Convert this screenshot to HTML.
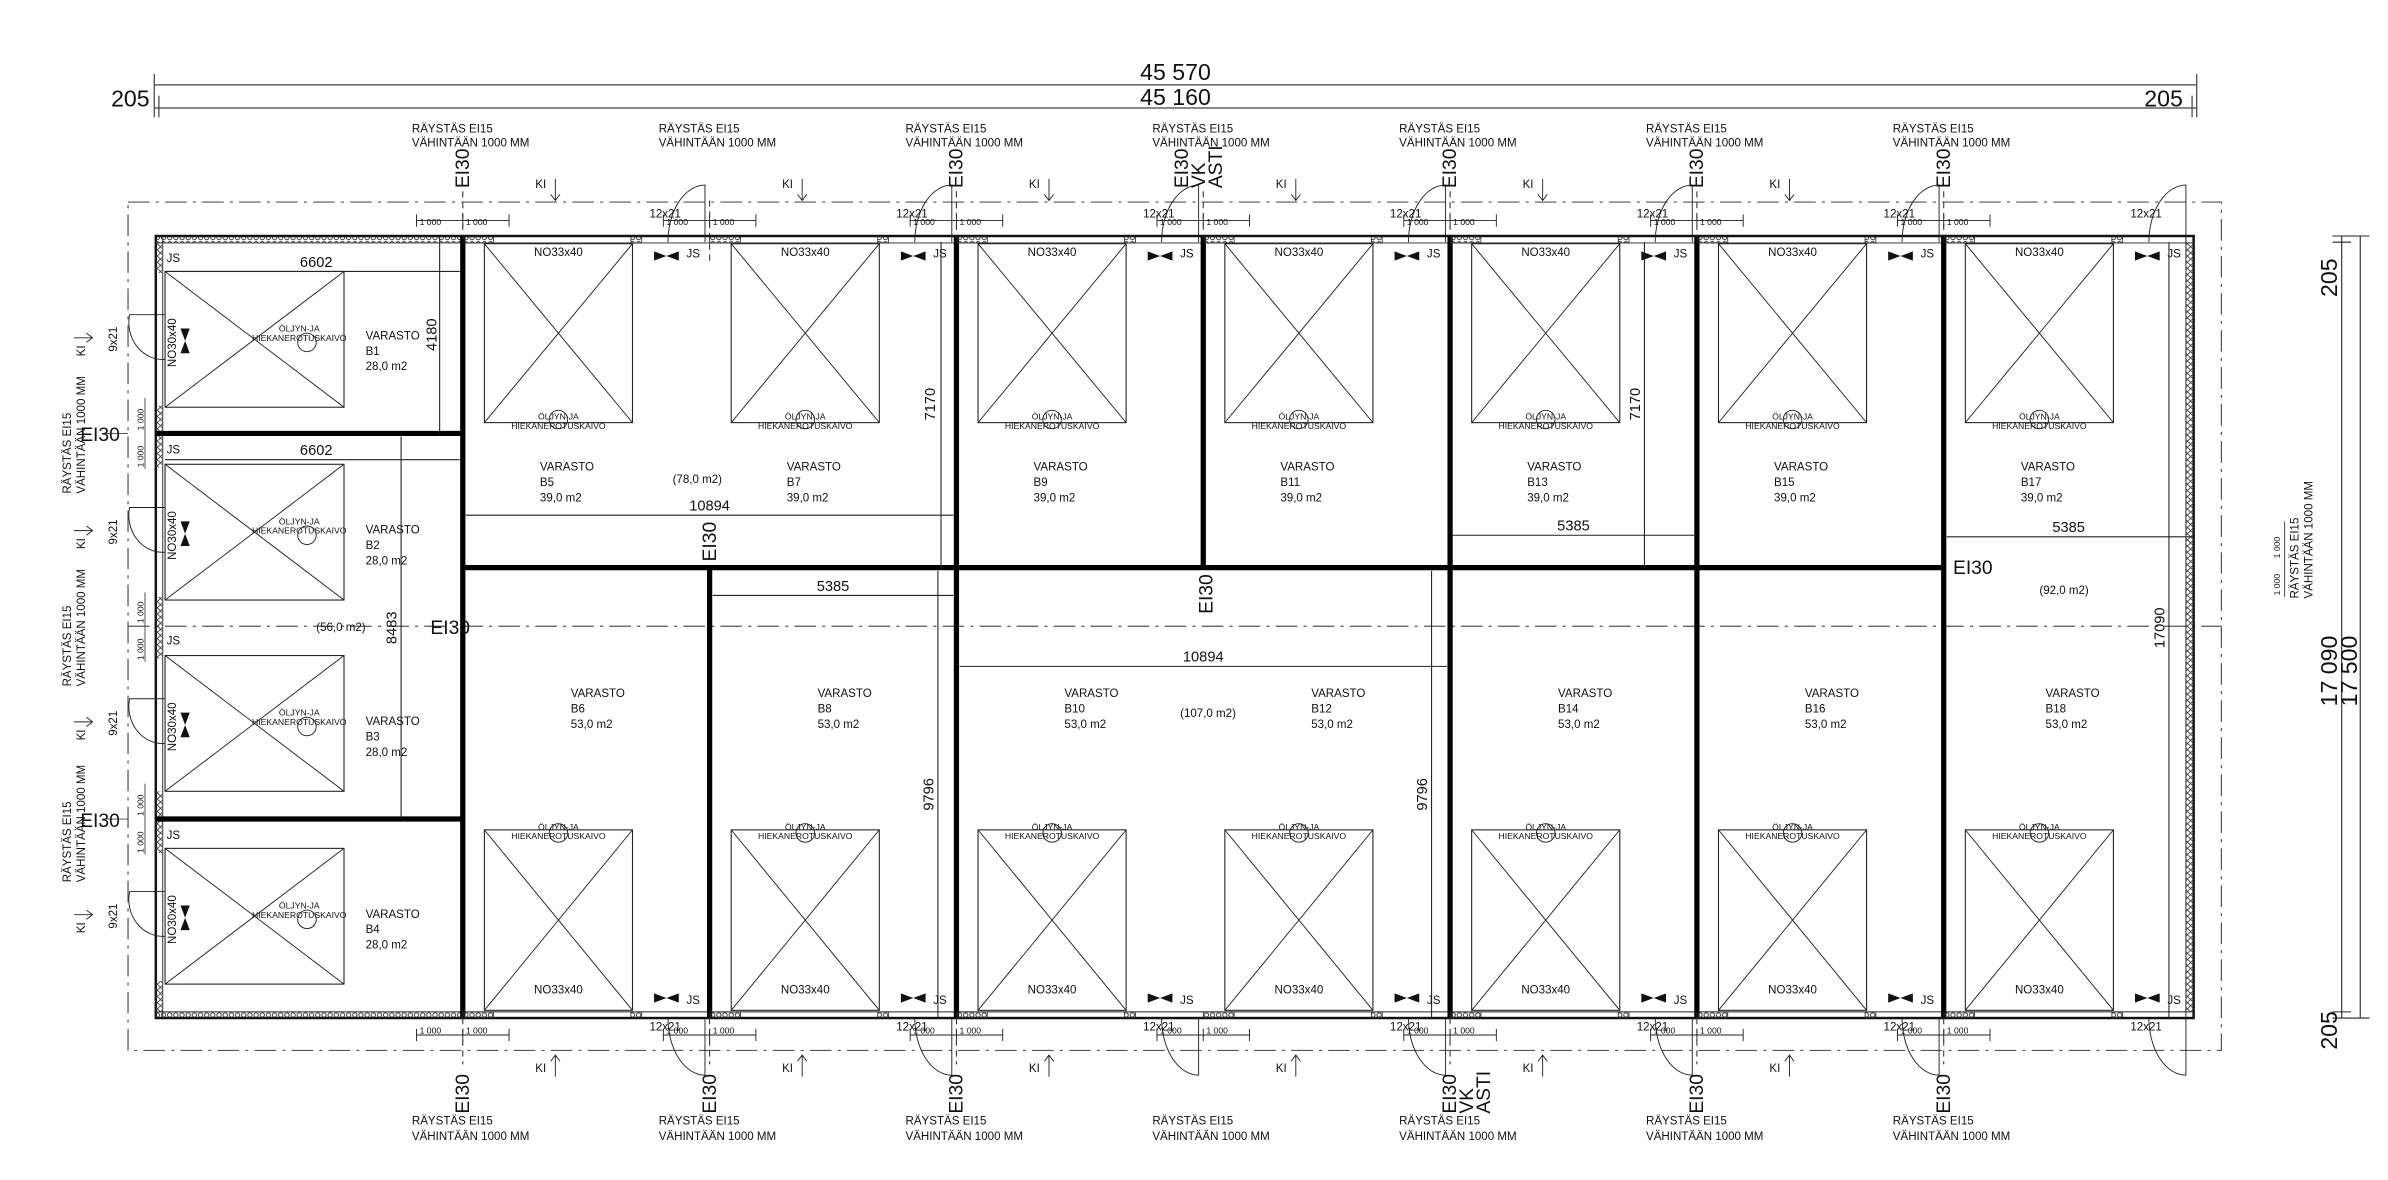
<!DOCTYPE html>
<html><head><meta charset="utf-8"><style>
html,body{margin:0;padding:0;background:#fff;}
svg{display:block;}
text{font-family:"Liberation Sans Narrow","Liberation Sans",sans-serif;fill:#111;}
.s{font-size:7.5px;}
.xs{font-size:5.6px;}
.m{font-size:9.5px;}
.l{font-family:"Liberation Sans",sans-serif;font-size:12.5px;}
.xl{font-size:15px;}
</style></head><body>
<svg width="2388" height="1180" viewBox="0 0 1548 765" preserveAspectRatio="none" xmlns="http://www.w3.org/2000/svg">
<defs>
<pattern id="h" width="4" height="4" patternUnits="userSpaceOnUse"><circle cx="2" cy="2" r="1.4" fill="none" stroke="#333" stroke-width="0.6"/></pattern>
<pattern id="hv" width="4" height="4" patternUnits="userSpaceOnUse"><path d="M0 0L4 4M4 0L0 4" stroke="#333" stroke-width="0.5"/></pattern>
<g id="bt">
<rect x="314" y="158" width="96" height="116" fill="none" stroke="#222" stroke-width="0.7"/>
<path d="M314 158L410 274M410 158L314 274" stroke="#222" stroke-width="0.6"/>
<circle cx="362" cy="272" r="6" fill="none" stroke="#222" stroke-width="0.6"/>
<rect x="300" y="153.5" width="20" height="4" fill="url(#h)" stroke="#222" stroke-width="0.5"/>
<rect x="409" y="153.5" width="7" height="4" fill="url(#h)" stroke="#222" stroke-width="0.5"/>
<path d="M457 157V120A24 37 0 0 0 433 157" fill="none" stroke="#222" stroke-width="0.6"/>
<path d="M424 163l8 3l-8 3zM440 163l-8 3l8 3z" fill="#111"/>
<path d="M270 143H330M270 139v8M300 139v8M330 139v8" stroke="#222" stroke-width="0.6"/>
</g>
<g id="ka"><path d="M360 116V130M357 126l3 4l3-4" fill="none" stroke="#222" stroke-width="0.6"/></g>
<g id="kb"><path d="M360 698V684M357 688l3-4l3 4" fill="none" stroke="#222" stroke-width="0.6"/></g>
<g id="bb">
<rect x="314" y="538" width="96" height="117" fill="none" stroke="#222" stroke-width="0.7"/>
<path d="M314 538L410 655M410 538L314 655" stroke="#222" stroke-width="0.6"/>
<circle cx="362" cy="540" r="6" fill="none" stroke="#222" stroke-width="0.6"/>
<rect x="300" y="656" width="20" height="4" fill="url(#h)" stroke="#222" stroke-width="0.5"/>
<rect x="409" y="656" width="7" height="4" fill="url(#h)" stroke="#222" stroke-width="0.5"/>
<path d="M457 660V697A24 37 0 0 1 433 660" fill="none" stroke="#222" stroke-width="0.6"/>
<path d="M424 644l8 3l-8 3zM440 644l-8 3l8 3z" fill="#111"/>
<path d="M270 671H330M270 667v8M300 667v8M330 667v8" stroke="#222" stroke-width="0.6"/>
</g>
<g id="lb">
<rect x="107" y="176" width="116" height="88" fill="none" stroke="#222" stroke-width="0.7"/>
<path d="M107 176L223 264M223 176L107 264" stroke="#222" stroke-width="0.6"/>
<circle cx="199" cy="222" r="6" fill="none" stroke="#222" stroke-width="0.6"/>
<path d="M117 213l3 8l3-8zM117 229l3-8l3 8z" fill="#111"/>
<path d="M107 204H84A22 24 0 0 0 107 233" fill="none" stroke="#222" stroke-width="0.6"/>
<path d="M48 219H60M56 216l4 3l-4 3" fill="none" stroke="#222" stroke-width="0.6"/>
</g>
</defs>

<path d="M100 55H1424M100 70H1424M100 48v28M1424 48v28M103 62v14M1421 62v14" stroke="#444" stroke-width="0.8" fill="none"/>
<text x="762" y="52" class="xl" text-anchor="middle">45 570</text>
<text x="762" y="68" class="xl" text-anchor="middle">45 160</text>
<text x="72" y="69" class="xl">205</text>
<text x="1390" y="69" class="xl">205</text>

<rect x="83" y="131" width="1357" height="550" fill="none" stroke="#555" stroke-width="0.8" stroke-dasharray="14 4 2 4"/>
<path d="M83 406H1440" stroke="#555" stroke-width="0.8" stroke-dasharray="14 4 2 4"/>

<rect x="101" y="153" width="1321" height="507" fill="none" stroke="#111" stroke-width="1.6"/>
<path d="M101 157.5H1422M101 656H1422M105.5 153V660M1417 153V660" stroke="#222" stroke-width="0.6"/>
<rect x="101" y="153.5" width="200" height="4" fill="url(#h)"/>
<rect x="101" y="656" width="200" height="4" fill="url(#h)"/>
<rect x="1417" y="157" width="5" height="499" fill="url(#hv)"/>
<rect x="101" y="157" width="4" height="20" fill="url(#hv)"/>
<rect x="101" y="263" width="4" height="40" fill="url(#hv)"/>
<rect x="101" y="387" width="4" height="40" fill="url(#hv)"/>
<rect x="101" y="513" width="4" height="40" fill="url(#hv)"/>
<rect x="101" y="636" width="4" height="20" fill="url(#hv)"/>

<g stroke="#000" stroke-width="3.4" fill="none">
<path d="M300 153V660M620 153V660M940 153V660M1100 153V660M1260 153V660M780 153V368M460 368V660"/>
<path d="M300 368H1260M101 281H300M101 531H300"/>
</g>

<use href="#bt"/><use href="#bt" x="160"/><use href="#bt" x="320"/><use href="#bt" x="480"/><use href="#bt" x="640"/><use href="#bt" x="800"/><use href="#bt" x="960"/>
<use href="#bb"/><use href="#bb" x="160"/><use href="#bb" x="320"/><use href="#bb" x="480"/><use href="#bb" x="640"/><use href="#bb" x="800"/><use href="#bb" x="960"/>
<use href="#ka"/><use href="#ka" x="160"/><use href="#ka" x="320"/><use href="#ka" x="480"/><use href="#ka" x="640"/><use href="#ka" x="800"/>
<use href="#kb"/><use href="#kb" x="160"/><use href="#kb" x="320"/><use href="#kb" x="480"/><use href="#kb" x="640"/><use href="#kb" x="800"/>
<use href="#lb"/><use href="#lb" y="125"/><use href="#lb" y="249"/><use href="#lb" y="374"/>

<g stroke="#222" stroke-width="0.7" fill="none">
<path d="M107 176H298M107 298H298M285 153V281M260 283V531M302 334H618M462 386H618M622 432H938M941 347H1100M1262 348H1422M610 157V368M1066 157V368M608 370V660M928 370V660M1406 157V660"/>
<path d="M1518 153V660M1530 153V660M1512 153H1536M1512 157H1524M1512 660H1536M1512 656H1524"/>
</g>
<text x="205" y="173" class="m" text-anchor="middle">6602</text>
<text x="205" y="295" class="m" text-anchor="middle">6602</text>
<text x="460" y="331" class="m" text-anchor="middle">10894</text>
<text x="540" y="383" class="m" text-anchor="middle">5385</text>
<text x="780" y="429" class="m" text-anchor="middle">10894</text>
<text x="1020" y="344" class="m" text-anchor="middle">5385</text>
<text x="1341" y="345" class="m" text-anchor="middle">5385</text>
<text transform="translate(283,217) rotate(-90)" class="m" text-anchor="middle">4180</text>
<text transform="translate(257,407) rotate(-90)" class="m" text-anchor="middle">8483</text>
<text transform="translate(606,262) rotate(-90)" class="m" text-anchor="middle">7170</text>
<text transform="translate(1063,262) rotate(-90)" class="m" text-anchor="middle">7170</text>
<text transform="translate(605,515) rotate(-90)" class="m" text-anchor="middle">9796</text>
<text transform="translate(925,515) rotate(-90)" class="m" text-anchor="middle">9796</text>
<text transform="translate(1403,407) rotate(-90)" class="m" text-anchor="middle">17090</text>
<text transform="translate(1515,180) rotate(-90)" class="xl" text-anchor="middle">205</text>
<text transform="translate(1515,435) rotate(-90)" class="xl" text-anchor="middle">17 090</text>
<text transform="translate(1528,435) rotate(-90)" class="xl" text-anchor="middle">17 500</text>
<text transform="translate(1515,668) rotate(-90)" class="xl" text-anchor="middle">205</text>

<g class="s">
<text x="237" y="220">VARASTO</text><text x="237" y="230">B1</text><text x="237" y="240">28,0 m2</text>
<text x="237" y="346">VARASTO</text><text x="237" y="356">B2</text><text x="237" y="366">28,0 m2</text>
<text x="237" y="470">VARASTO</text><text x="237" y="480">B3</text><text x="237" y="490">28,0 m2</text>
<text x="237" y="595">VARASTO</text><text x="237" y="605">B4</text><text x="237" y="615">28,0 m2</text>
<text x="205" y="409">(56,0 m2)</text>
<text x="350" y="305">VARASTO</text><text x="350" y="315">B5</text><text x="350" y="325">39,0 m2</text>
<text x="510" y="305">VARASTO</text><text x="510" y="315">B7</text><text x="510" y="325">39,0 m2</text>
<text x="670" y="305">VARASTO</text><text x="670" y="315">B9</text><text x="670" y="325">39,0 m2</text>
<text x="830" y="305">VARASTO</text><text x="830" y="315">B11</text><text x="830" y="325">39,0 m2</text>
<text x="990" y="305">VARASTO</text><text x="990" y="315">B13</text><text x="990" y="325">39,0 m2</text>
<text x="1150" y="305">VARASTO</text><text x="1150" y="315">B15</text><text x="1150" y="325">39,0 m2</text>
<text x="1310" y="305">VARASTO</text><text x="1310" y="315">B17</text><text x="1310" y="325">39,0 m2</text>
<text x="436" y="313">(78,0 m2)</text>
<text x="1322" y="385">(92,0 m2)</text>
<text x="765" y="465">(107,0 m2)</text>
<text x="370" y="452">VARASTO</text><text x="370" y="462">B6</text><text x="370" y="472">53,0 m2</text>
<text x="530" y="452">VARASTO</text><text x="530" y="462">B8</text><text x="530" y="472">53,0 m2</text>
<text x="690" y="452">VARASTO</text><text x="690" y="462">B10</text><text x="690" y="472">53,0 m2</text>
<text x="850" y="452">VARASTO</text><text x="850" y="462">B12</text><text x="850" y="472">53,0 m2</text>
<text x="1010" y="452">VARASTO</text><text x="1010" y="462">B14</text><text x="1010" y="472">53,0 m2</text>
<text x="1170" y="452">VARASTO</text><text x="1170" y="462">B16</text><text x="1170" y="472">53,0 m2</text>
<text x="1326" y="452">VARASTO</text><text x="1326" y="462">B18</text><text x="1326" y="472">53,0 m2</text>
</g>

<g class="s" text-anchor="middle">
<text x="362" y="166">NO33x40</text><text x="522" y="166">NO33x40</text><text x="682" y="166">NO33x40</text><text x="842" y="166">NO33x40</text><text x="1002" y="166">NO33x40</text><text x="1162" y="166">NO33x40</text><text x="1322" y="166">NO33x40</text>
<text x="362" y="644">NO33x40</text><text x="522" y="644">NO33x40</text><text x="682" y="644">NO33x40</text><text x="842" y="644">NO33x40</text><text x="1002" y="644">NO33x40</text><text x="1162" y="644">NO33x40</text><text x="1322" y="644">NO33x40</text>
</g>
<g class="xs" text-anchor="middle">
<text x="362" y="272">ÖLJYN-JA</text><text x="362" y="278">HIEKANEROTUSKAIVO</text>
<text x="522" y="272">ÖLJYN-JA</text><text x="522" y="278">HIEKANEROTUSKAIVO</text>
<text x="682" y="272">ÖLJYN-JA</text><text x="682" y="278">HIEKANEROTUSKAIVO</text>
<text x="842" y="272">ÖLJYN-JA</text><text x="842" y="278">HIEKANEROTUSKAIVO</text>
<text x="1002" y="272">ÖLJYN-JA</text><text x="1002" y="278">HIEKANEROTUSKAIVO</text>
<text x="1162" y="272">ÖLJYN-JA</text><text x="1162" y="278">HIEKANEROTUSKAIVO</text>
<text x="1322" y="272">ÖLJYN-JA</text><text x="1322" y="278">HIEKANEROTUSKAIVO</text>
<text x="362" y="538">ÖLJYN-JA</text><text x="362" y="544">HIEKANEROTUSKAIVO</text>
<text x="522" y="538">ÖLJYN-JA</text><text x="522" y="544">HIEKANEROTUSKAIVO</text>
<text x="682" y="538">ÖLJYN-JA</text><text x="682" y="544">HIEKANEROTUSKAIVO</text>
<text x="842" y="538">ÖLJYN-JA</text><text x="842" y="544">HIEKANEROTUSKAIVO</text>
<text x="1002" y="538">ÖLJYN-JA</text><text x="1002" y="544">HIEKANEROTUSKAIVO</text>
<text x="1162" y="538">ÖLJYN-JA</text><text x="1162" y="544">HIEKANEROTUSKAIVO</text>
<text x="1322" y="538">ÖLJYN-JA</text><text x="1322" y="544">HIEKANEROTUSKAIVO</text>
<text x="194" y="215">ÖLJYN-JA</text><text x="194" y="221">HIEKANEROTUSKAIVO</text>
<text x="194" y="340">ÖLJYN-JA</text><text x="194" y="346">HIEKANEROTUSKAIVO</text>
<text x="194" y="464">ÖLJYN-JA</text><text x="194" y="470">HIEKANEROTUSKAIVO</text>
<text x="194" y="589">ÖLJYN-JA</text><text x="194" y="595">HIEKANEROTUSKAIVO</text>
</g>
<g class="s">
<text transform="translate(114,238) rotate(-90)">NO30x40</text>
<text transform="translate(114,363) rotate(-90)">NO30x40</text>
<text transform="translate(114,487) rotate(-90)">NO30x40</text>
<text transform="translate(114,612) rotate(-90)">NO30x40</text>
<text x="108" y="170">JS</text><text x="108" y="294">JS</text><text x="108" y="418">JS</text><text x="108" y="544">JS</text>
<text x="445" y="167">JS</text><text x="605" y="167">JS</text><text x="765" y="167">JS</text><text x="925" y="167">JS</text><text x="1085" y="167">JS</text><text x="1245" y="167">JS</text><text x="1405" y="167">JS</text>
<text x="445" y="651">JS</text><text x="605" y="651">JS</text><text x="765" y="651">JS</text><text x="925" y="651">JS</text><text x="1085" y="651">JS</text><text x="1245" y="651">JS</text><text x="1405" y="651">JS</text>
<text x="421" y="141">12x21</text><text x="581" y="141">12x21</text><text x="741" y="141">12x21</text><text x="901" y="141">12x21</text><text x="1061" y="141">12x21</text><text x="1221" y="141">12x21</text><text x="1381" y="141">12x21</text>
<text x="421" y="668">12x21</text><text x="581" y="668">12x21</text><text x="741" y="668">12x21</text><text x="901" y="668">12x21</text><text x="1061" y="668">12x21</text><text x="1221" y="668">12x21</text><text x="1381" y="668">12x21</text>
<text x="347" y="122">KI</text><text x="507" y="122">KI</text><text x="667" y="122">KI</text><text x="827" y="122">KI</text><text x="987" y="122">KI</text><text x="1147" y="122">KI</text>
<text x="347" y="695">KI</text><text x="507" y="695">KI</text><text x="667" y="695">KI</text><text x="827" y="695">KI</text><text x="987" y="695">KI</text><text x="1147" y="695">KI</text>
</g>
<g class="xs">
<text x="272" y="146">1 000</text><text x="302" y="146">1 000</text>
<text x="432" y="146">1 000</text><text x="462" y="146">1 000</text>
<text x="592" y="146">1 000</text><text x="622" y="146">1 000</text>
<text x="752" y="146">1 000</text><text x="782" y="146">1 000</text>
<text x="912" y="146">1 000</text><text x="942" y="146">1 000</text>
<text x="1072" y="146">1 000</text><text x="1102" y="146">1 000</text>
<text x="1232" y="146">1 000</text><text x="1262" y="146">1 000</text>
<text x="272" y="670">1 000</text><text x="302" y="670">1 000</text>
<text x="432" y="670">1 000</text><text x="462" y="670">1 000</text>
<text x="592" y="670">1 000</text><text x="622" y="670">1 000</text>
<text x="752" y="670">1 000</text><text x="782" y="670">1 000</text>
<text x="912" y="670">1 000</text><text x="942" y="670">1 000</text>
<text x="1072" y="670">1 000</text><text x="1102" y="670">1 000</text>
<text x="1232" y="670">1 000</text><text x="1262" y="670">1 000</text>
</g>

<g class="s">
<text transform="translate(76,228) rotate(-90)">9x21</text>
<text transform="translate(76,353) rotate(-90)">9x21</text>
<text transform="translate(76,477) rotate(-90)">9x21</text>
<text transform="translate(76,602) rotate(-90)">9x21</text>
<text transform="translate(55,231) rotate(-90)">KI</text>
<text transform="translate(55,356) rotate(-90)">KI</text>
<text transform="translate(55,480) rotate(-90)">KI</text>
<text transform="translate(55,605) rotate(-90)">KI</text>
<text transform="translate(46,320) rotate(-90)">RÄYSTÄS EI15</text><text transform="translate(55,320) rotate(-90)">VÄHINTÄÄN 1000 MM</text>
<text transform="translate(46,445) rotate(-90)">RÄYSTÄS EI15</text><text transform="translate(55,445) rotate(-90)">VÄHINTÄÄN 1000 MM</text>
<text transform="translate(46,572) rotate(-90)">RÄYSTÄS EI15</text><text transform="translate(55,572) rotate(-90)">VÄHINTÄÄN 1000 MM</text>
<text transform="translate(1490,388) rotate(-90)">RÄYSTÄS EI15</text><text transform="translate(1499,388) rotate(-90)">VÄHINTÄÄN 1000 MM</text>
</g>
<g class="xs">
<text transform="translate(93,279) rotate(-90)">1 000</text><text transform="translate(93,303) rotate(-90)">1 000</text>
<text transform="translate(93,529) rotate(-90)">1 000</text><text transform="translate(93,553) rotate(-90)">1 000</text>
<text transform="translate(93,404) rotate(-90)">1 000</text><text transform="translate(93,428) rotate(-90)">1 000</text>
<text transform="translate(1478,362) rotate(-90)">1 000</text><text transform="translate(1478,386) rotate(-90)">1 000</text>
</g>
<path d="M94 258V304M94 508V554M94 384V429M1481 338V387M66 281H83M66 531H83" stroke="#444" stroke-width="0.6" fill="none"/>
<text x="52" y="286" class="l">EI30</text>
<text x="52" y="536" class="l">EI30</text>
<text x="279" y="411" class="l">EI30</text>
<text x="1266" y="372" class="l">EI30</text>
<text transform="translate(464,364) rotate(-90)" class="l">EI30</text>
<text transform="translate(786,398) rotate(-90)" class="l">EI30</text>

<g class="l">
<text transform="translate(304,122) rotate(-90)">EI30</text>
<text transform="translate(624,122) rotate(-90)">EI30</text>
<text transform="translate(770,122) rotate(-90)">EI30</text><text transform="translate(781,122) rotate(-90)">VK</text><text transform="translate(792,122) rotate(-90)">ASTI</text>
<text transform="translate(944,122) rotate(-90)">EI30</text>
<text transform="translate(1104,122) rotate(-90)">EI30</text>
<text transform="translate(1264,122) rotate(-90)">EI30</text>
<text transform="translate(304,722) rotate(-90)">EI30</text>
<text transform="translate(464,722) rotate(-90)">EI30</text>
<text transform="translate(624,722) rotate(-90)">EI30</text>
<text transform="translate(944,722) rotate(-90)">EI30</text><text transform="translate(955,722) rotate(-90)">VK</text><text transform="translate(966,722) rotate(-90)">ASTI</text>
<text transform="translate(1104,722) rotate(-90)">EI30</text>
<text transform="translate(1264,722) rotate(-90)">EI30</text>
</g>
<path d="M300 124V153M620 124V153M780 124V153M940 124V153M1100 124V153M1260 124V153M460 130V170M300 660V690M460 660V690M620 660V690M940 660V690M1100 660V690M1260 660V690" stroke="#333" stroke-width="0.7" stroke-dasharray="4 3"/>
<g class="s">
<text x="267" y="86">RÄYSTÄS EI15</text><text x="267" y="95">VÄHINTÄÄN 1000 MM</text>
<text x="427" y="86">RÄYSTÄS EI15</text><text x="427" y="95">VÄHINTÄÄN 1000 MM</text>
<text x="587" y="86">RÄYSTÄS EI15</text><text x="587" y="95">VÄHINTÄÄN 1000 MM</text>
<text x="747" y="86">RÄYSTÄS EI15</text><text x="747" y="95">VÄHINTÄÄN 1000 MM</text>
<text x="907" y="86">RÄYSTÄS EI15</text><text x="907" y="95">VÄHINTÄÄN 1000 MM</text>
<text x="1067" y="86">RÄYSTÄS EI15</text><text x="1067" y="95">VÄHINTÄÄN 1000 MM</text>
<text x="1227" y="86">RÄYSTÄS EI15</text><text x="1227" y="95">VÄHINTÄÄN 1000 MM</text>
<text x="267" y="729">RÄYSTÄS EI15</text><text x="267" y="739">VÄHINTÄÄN 1000 MM</text>
<text x="427" y="729">RÄYSTÄS EI15</text><text x="427" y="739">VÄHINTÄÄN 1000 MM</text>
<text x="587" y="729">RÄYSTÄS EI15</text><text x="587" y="739">VÄHINTÄÄN 1000 MM</text>
<text x="747" y="729">RÄYSTÄS EI15</text><text x="747" y="739">VÄHINTÄÄN 1000 MM</text>
<text x="907" y="729">RÄYSTÄS EI15</text><text x="907" y="739">VÄHINTÄÄN 1000 MM</text>
<text x="1067" y="729">RÄYSTÄS EI15</text><text x="1067" y="739">VÄHINTÄÄN 1000 MM</text>
<text x="1227" y="729">RÄYSTÄS EI15</text><text x="1227" y="739">VÄHINTÄÄN 1000 MM</text>
</g>
</svg>
</body></html>
